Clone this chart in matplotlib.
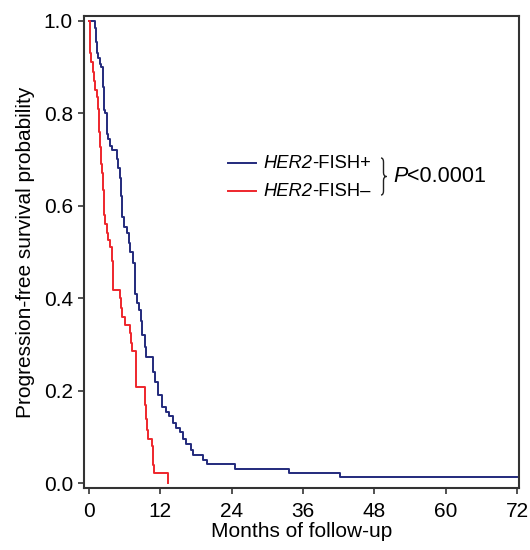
"""Kaplan-Meier progression-free survival by HER2-FISH status."""

import matplotlib
matplotlib.use("Agg")
import matplotlib.pyplot as plt
from matplotlib.path import Path
from matplotlib.patches import PathPatch

plt.rcParams["font.family"] = ["Liberation Sans", "DejaVu Sans"]

# step curves: time (months) where survival drops, value after the drop
pos_months = [0, 1.0, 1.2, 1.35, 1.6, 1.85, 2.1, 2.36, 2.45, 2.5, 2.75, 3.0, 3.05,
              3.3, 3.6, 3.9, 4.7, 4.8, 4.9, 5.2, 5.4, 5.6, 6.0, 6.4, 6.7, 7.0,
              7.4, 7.7, 8.1, 8.4, 8.7, 9.0, 9.4, 9.7, 10.8, 11.2, 11.6, 12.3,
              13.0, 13.5, 14.1, 14.6, 15.3, 15.8, 16.4, 17.2, 17.5, 19.2, 19.8,
              24.6, 33.6, 42.2, 72.0]
pos_surv = [1.0, 0.985, 0.953, 0.931, 0.92, 0.907, 0.90, 0.892, 0.856, 0.806,
            0.80, 0.791, 0.756, 0.745, 0.73, 0.72, 0.713, 0.70, 0.681, 0.66,
            0.62, 0.575, 0.555, 0.54, 0.52, 0.50, 0.476, 0.41, 0.39, 0.375,
            0.35, 0.32, 0.295, 0.274, 0.24, 0.22, 0.19, 0.166, 0.155, 0.145,
            0.13, 0.12, 0.11, 0.095, 0.085, 0.073, 0.062, 0.05, 0.041, 0.032,
            0.023, 0.013, 0.013]

neg_months = [0, 0.17, 0.3, 0.67, 0.85, 1.0, 1.35, 1.5, 1.7, 1.85, 2.0, 2.2,
              2.36, 2.5, 2.7, 3.0, 3.3, 3.5, 3.9, 4.0, 4.05, 5.2, 5.4, 5.6, 6.1,
              6.9, 7.1, 7.25, 7.9, 8.0, 9.45, 9.6, 9.8, 9.95, 10.6, 10.8, 10.85,
              10.9, 13.3]
neg_surv = [1.0, 0.93, 0.91, 0.89, 0.87, 0.85, 0.834, 0.81, 0.76, 0.726, 0.69,
            0.67, 0.634, 0.58, 0.56, 0.54, 0.526, 0.51, 0.48, 0.435, 0.418,
            0.40, 0.38, 0.36, 0.343, 0.325, 0.304, 0.285, 0.25, 0.209, 0.17,
            0.14, 0.116, 0.095, 0.08, 0.07, 0.04, 0.022, 0.0]

x_ticks = [0, 12, 24, 36, 48, 60, 72]
y_ticks = [0.0, 0.2, 0.4, 0.6, 0.8, 1.0]
series_names = ["HER2", "HER2"]
series_suffix = ["-FISH+", "-FISH\u2013"]
p_label = "<0.0001"

blue = "#232a7c"
red = "#ee262c"

W, H = 530, 550
fig = plt.figure(figsize=(W / 100, H / 100), dpi=100)
ax = fig.add_axes([84 / W, 1 - 488 / H, 435 / W, 472 / H])

ax.step(pos_months, pos_surv, where="post", color=blue, linewidth=1.4)
ax.step(neg_months, neg_surv, where="post", color=red, linewidth=1.4)

ax.set_xlim(-0.8, 72.3)
ax.set_ylim(-0.01, 1.01)
ax.set_xticks(x_ticks)
ax.set_yticks(y_ticks)
ax.set_yticklabels([f"{v:.1f}" for v in y_ticks])
ax.tick_params(direction="out", length=4, width=1.1, labelsize=15, color="#222222")
ax.tick_params(axis="x", pad=6)
ax.tick_params(axis="y", pad=4)
for spine in ax.spines.values():
    spine.set_color("#333333")
    spine.set_linewidth(1.5)

ax.set_xlabel("Months of follow-up", fontsize=15, labelpad=1)
ax.set_ylabel("Progression-free survival probability", fontsize=15, labelpad=6)


def fx(px):
    return px / W


def fy(py):
    return 1 - py / H


# legend drawn by hand: short line, italic gene name, plain suffix
for color, name, suffix, py in zip([blue, red], series_names, series_suffix, [163, 191]):
    fig.add_artist(plt.Line2D([fx(228), fx(256)], [fy(py), fy(py)],
                              color=color, linewidth=1.4))
    t = fig.text(fx(263), fy(py), name, fontsize=13.2, style="italic",
                 va="center", ha="left")
    ax.annotate(suffix, xy=(1, 0), xycoords=t, fontsize=13.2,
                va="bottom", ha="left", annotation_clip=False)

# thin curly brace joining the two entries
bx0, bx1, top, mid, bot = 381, 386.5, 158, 176.5, 195
brace_px = [
    (bx0, top), (bx0 + 2.5, top), (bx0 + 2.5, top + 4),
    (bx0 + 2.5, mid - 4),
    (bx0 + 2.5, mid), (bx1, mid),
    (bx0 + 2.5, mid), (bx0 + 2.5, mid + 4),
    (bx0 + 2.5, bot - 4),
    (bx0 + 2.5, bot), (bx0, bot),
]
codes = [Path.MOVETO, Path.CURVE3, Path.CURVE3, Path.LINETO,
         Path.CURVE3, Path.CURVE3, Path.CURVE3, Path.CURVE3,
         Path.LINETO, Path.CURVE3, Path.CURVE3]
brace = Path([(fx(x), fy(y)) for x, y in brace_px], codes)
fig.add_artist(PathPatch(brace, transform=fig.transFigure, facecolor="none",
                         edgecolor="#222222", linewidth=1.0))

pt = fig.text(fx(393), fy(177), "P", fontsize=15.5, style="italic",
              va="center", ha="left")
ax.annotate(p_label, xy=(1, 0), xycoords=pt, fontsize=15.5,
            va="bottom", ha="left", annotation_clip=False)

fig.savefig("out.png", dpi=100)
